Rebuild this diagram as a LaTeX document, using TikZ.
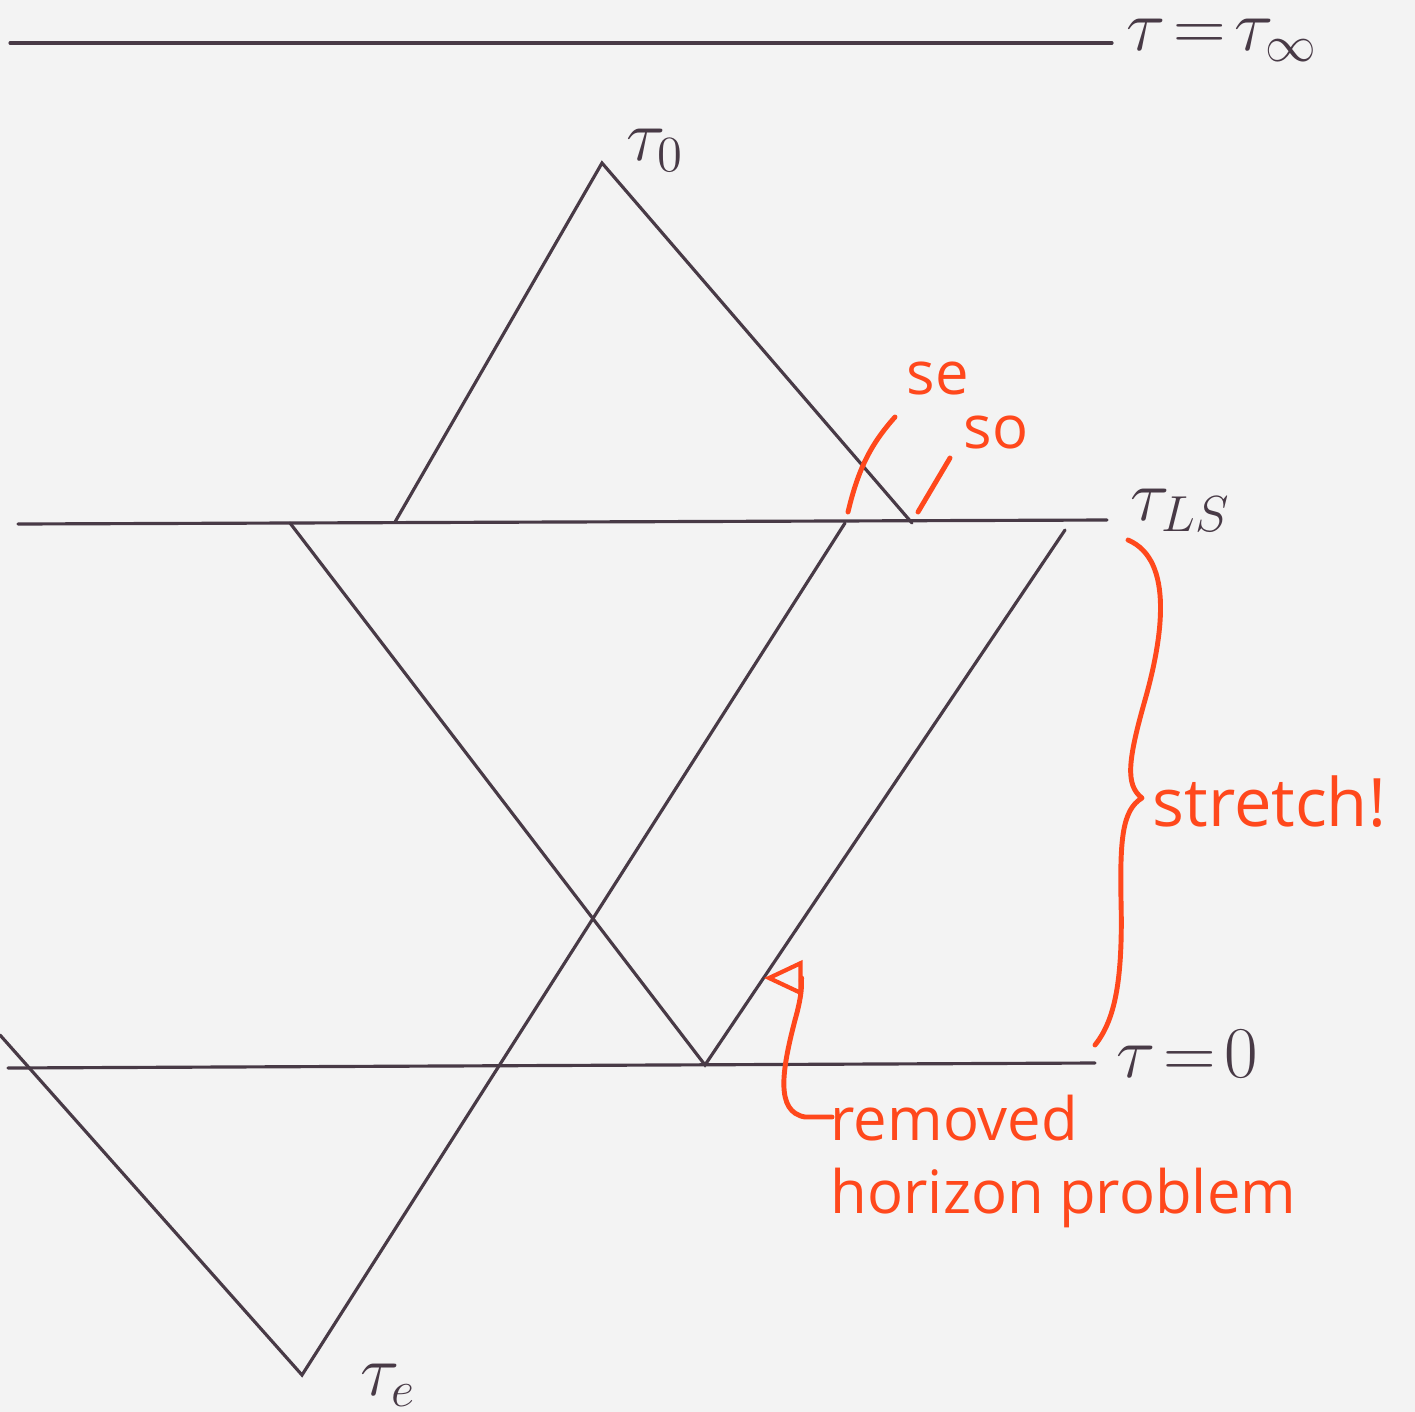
\documentclass[tikz,border=0pt]{standalone}
\usepackage{fontspec}
\setsansfont{Open Sans}
\usetikzlibrary{arrows.meta}
\definecolor{ink}{RGB}{72,58,70}
\definecolor{hand}{RGB}{255,72,28}
\definecolor{paper}{RGB}{243,243,243}
\begin{document}
\begin{tikzpicture}[x=0.01cm,y=-0.01cm,
  inkline/.style={draw=ink,line width=0.9pt,line cap=round},
  redline/.style={draw=hand,line width=1.4pt,line cap=round,line join=round},
  tlabel/.style={text=ink,font=\fontsize{21}{25}\selectfont,inner sep=0pt},
  rlabel/.style={text=hand,font=\sffamily\fontsize{17}{21}\selectfont,inner sep=0pt,align=left}]
\fill[paper] (0,0) rectangle (1415,1412);
\useasboundingbox (0,0) rectangle (1415,1412);
% key points
\coordinate (Linf) at (10,43);
\coordinate (Rinf) at (1112,43);
\coordinate (LLS) at (18,524);
\coordinate (RLS) at (1107,520);
\coordinate (L0) at (8,1068);
\coordinate (R0) at (1095,1063);
\coordinate (T0) at (602,163);
\coordinate (A) at (395,522);
\coordinate (B) at (912,523);
\coordinate (C) at (290,523);
\coordinate (D) at (705,1065);
\coordinate (E) at (1065,530);
\coordinate (F) at (845,523);
\coordinate (TE) at (302,1375);
\coordinate (G) at (0,1035);
% horizontal lines
\draw[inkline] (Linf) -- (Rinf);
\draw[inkline] (LLS) -- (RLS);
\draw[inkline] (L0) -- (R0);
% light cones
\draw[inkline] (A) -- (T0) -- (B);
\draw[inkline] (C) -- (D) -- (E);
\draw[inkline] (G) -- (TE) -- (F);
% labels
\node[tlabel,anchor=west] (linf) at (1126,40) {$\tau\!=\!\tau_{\infty}$};
\node[tlabel] (l0) at (655,150) {$\tau_0$};
\node[tlabel,anchor=west] (lls) at (1130,510) {$\tau_{LS}$};
\node[tlabel,anchor=west] (lz) at (1116,1054) {$\tau\!=\!0$};
\node[tlabel] (le) at (388,1385) {$\tau_e$};
% red marks
\coordinate (se1) at (848,512);
\coordinate (se2) at (895,417);
\coordinate (so1) at (918,512);
\coordinate (so2) at (950,458);
\draw[redline] (se1) .. controls (858,470) and (870,445) .. (se2);
\draw[redline] (so1) -- (so2);
\node[rlabel] (se) at (938,378) {se};
\node[rlabel] (so) at (996,432) {so};
% brace
\coordinate (btop) at (1128,540);
\coordinate (btip) at (1142,798);
\coordinate (bbot) at (1095,1045);
\draw[redline] (btop) .. controls (1175,560) and (1162,640) .. (1145,700)
  .. controls (1128,760) and (1125,785) .. (btip)
  .. controls (1122,810) and (1120,840) .. (1121,900)
  .. controls (1123,980) and (1115,1020) .. (bbot);
\node[rlabel,font=\sffamily\fontsize{19}{23}\selectfont,anchor=west] (stretch) at (1152,802) {stretch!};
% arrow
\coordinate (hook) at (832,1117);
\coordinate (tip) at (764,978);
\draw[redline,-{Triangle[open,length=11pt,width=10pt,line width=1.2pt]}] (hook) -- (805,1117)
  .. controls (775,1112) and (782,1070) .. (795,1020)
  .. controls (805,985) and (800,978) .. (tip);
\node[rlabel,anchor=north west,inner sep=0pt] (removed) at (830,1094) {removed\\horizon problem};
\end{tikzpicture}
\end{document}
